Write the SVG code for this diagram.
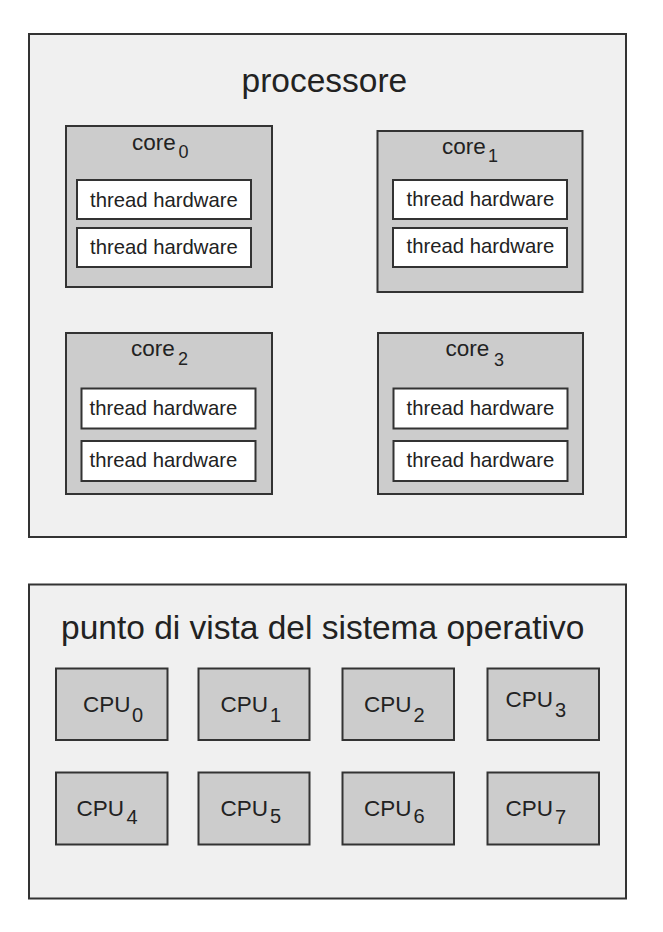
<svg xmlns="http://www.w3.org/2000/svg" width="663" height="932" viewBox="0 0 663 932">
<style>
text{font-family:"Liberation Sans",Arial,Helvetica,sans-serif;fill:#222}
.outer{fill:#f0f0f0;stroke:#333;stroke-width:2}
.core{fill:#cccccc;stroke:#333;stroke-width:2}
.thr{fill:#ffffff;stroke:#333;stroke-width:2}
.cpu{fill:#cccccc;stroke:#333;stroke-width:2}
.title{font-size:33.5px}
.lbl{font-size:22.5px}
.sub{font-size:18px}
.csub{font-size:20px}
.th{font-size:20.3px}
</style>
<rect x="0" y="0" width="663" height="932" fill="#ffffff"/>
<g id="processore">
<rect class="outer" x="29" y="34" width="597" height="503"/>
<text class="title" x="241.5" y="91.7">processore</text>
</g>
<g id="core0">
<rect class="core" x="66" y="126" width="206" height="161"/>
<text class="lbl" x="132" y="150">core</text><text class="sub" x="178.5" y="157.5">0</text>
<rect class="thr" x="77" y="180" width="174" height="39"/>
<text class="th" x="90" y="206.5">thread hardware</text>
<rect class="thr" x="77" y="228" width="174" height="39"/>
<text class="th" x="90" y="253.5">thread hardware</text>
</g>
<g id="core1">
<rect class="core" x="377.5" y="131" width="205" height="161"/>
<text class="lbl" x="442" y="154.3">core</text><text class="sub" x="488" y="162">1</text>
<rect class="thr" x="393" y="180" width="174" height="39"/>
<text class="th" x="406.5" y="206">thread hardware</text>
<rect class="thr" x="393" y="228" width="174" height="39"/>
<text class="th" x="406.5" y="253">thread hardware</text>
</g>
<g id="core2">
<rect class="core" x="66" y="333" width="206" height="161"/>
<text class="lbl" x="131" y="356">core</text><text class="sub" x="178" y="364.5">2</text>
<rect class="thr" x="81.5" y="388.5" width="174" height="40"/>
<text class="th" x="89.5" y="414.5">thread hardware</text>
<rect class="thr" x="81.5" y="441" width="174" height="40"/>
<text class="th" x="89.5" y="467">thread hardware</text>
</g>
<g id="core3">
<rect class="core" x="378" y="333" width="205" height="161"/>
<text class="lbl" x="445.5" y="356">core</text><text class="sub" x="494" y="365.5">3</text>
<rect class="thr" x="393.5" y="388.5" width="174" height="40"/>
<text class="th" x="406.5" y="414.5">thread hardware</text>
<rect class="thr" x="393.5" y="441" width="174" height="40"/>
<text class="th" x="406.5" y="467">thread hardware</text>
</g>
<g id="os-view">
<rect class="outer" x="29" y="584.5" width="597" height="314"/>
<text class="title" x="61" y="638.5">punto di vista del sistema operativo</text>
</g>
<g id="cpu0"><rect class="cpu" x="56" y="668.5" width="111.5" height="71.5"/><text class="lbl" x="83" y="711.5">CPU</text><text class="csub" x="132" y="721.5">0</text></g>
<g id="cpu1"><rect class="cpu" x="198.5" y="668.5" width="111" height="71.5"/><text class="lbl" x="220.5" y="711.5">CPU</text><text class="csub" x="270" y="721.5">1</text></g>
<g id="cpu2"><rect class="cpu" x="342.5" y="668.5" width="111.5" height="71.5"/><text class="lbl" x="364" y="711.5">CPU</text><text class="csub" x="413.5" y="721.5">2</text></g>
<g id="cpu3"><rect class="cpu" x="487.5" y="668.5" width="111.5" height="71.5"/><text class="lbl" x="505.5" y="706.5">CPU</text><text class="csub" x="555" y="716.5">3</text></g>
<g id="cpu4"><rect class="cpu" x="56" y="772.5" width="111.5" height="72"/><text class="lbl" x="76.5" y="815.5">CPU</text><text class="csub" x="126.5" y="823.5">4</text></g>
<g id="cpu5"><rect class="cpu" x="198.5" y="772.5" width="111" height="72"/><text class="lbl" x="220.5" y="815.5">CPU</text><text class="csub" x="270" y="823">5</text></g>
<g id="cpu6"><rect class="cpu" x="342.5" y="772.5" width="111.5" height="72"/><text class="lbl" x="364" y="815.5">CPU</text><text class="csub" x="413.5" y="823">6</text></g>
<g id="cpu7"><rect class="cpu" x="487.5" y="772.5" width="111.5" height="72"/><text class="lbl" x="505.5" y="815.5">CPU</text><text class="csub" x="555" y="823.5">7</text></g>
<g id="connectors"></g>
</svg>
